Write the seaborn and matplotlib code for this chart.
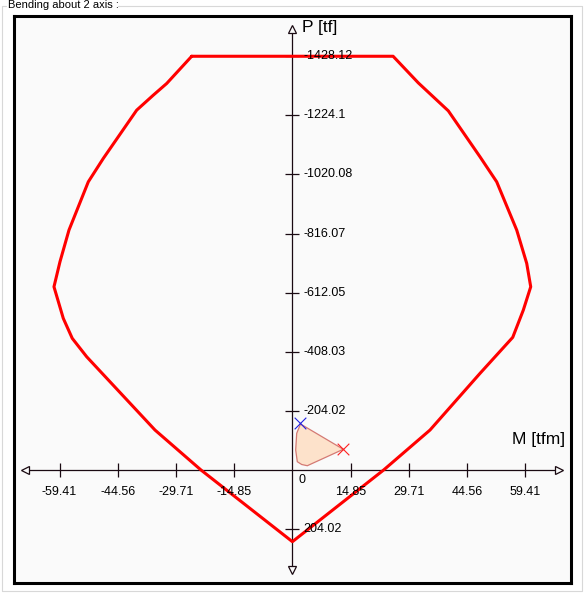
import matplotlib
matplotlib.use("Agg")
import matplotlib.pyplot as plt
from matplotlib.lines import Line2D
import seaborn as sns
import numpy as np
import pandas as pd

# ---- data ----
curve_M = [-25.70, 25.70, 32.13, 35.96, 39.79, 47.88, 52.14, 57.25, 59.80, 60.82, 58.93,
           56.23, 47.88, 35.12, 23.28, 0.0, -23.33, -35.07, -52.50, -56.18, -58.47,
           -60.85, -59.32, -57.02, -52.09, -48.26, -39.74, -35.50, -32.08, -25.70]
curve_P = [-1428.12, -1428.12, -1336.3, -1288.0, -1239.7, -1081.0, -994.7, -828.1, -713.2,
           -632.4, -552.0, -457.9, -333.6, -138.0, 0.0, 247.4, 0.0, -138.0, -390.9, -454.4,
           -523.4, -632.4, -718.7, -828.1, -994.7, -1075.5, -1242.1, -1293.9, -1334.2, -1428.12]

load_M = [2.07, 1.10, 0.84, 1.25, 2.37, 3.80, 12.98]
load_P = [-158.8, -126.7, -69.0, -28.7, -19.0, -14.8, -71.5]

blue_pt = (1.94, -161.2)
red_pt = (12.98, -71.5)

x_ticks = [-59.41, -44.56, -29.71, -14.85, 14.85, 29.71, 44.56, 59.41]
x_tick_labels = ["-59.41", "-44.56", "-29.71", "-14.85", "14.85", "29.71", "44.56", "59.41"]
y_ticks = [-1428.12, -1224.10, -1020.08, -816.07, -612.05, -408.03, -204.02, 204.02]
y_tick_labels = ["-1428.12", "-1224.1", "-1020.08", "-816.07", "-612.05", "-408.03", "-204.02", "204.02"]

sns.set_theme(style="white")
plt.rcParams["font.family"] = ["Liberation Sans", "DejaVu Sans"]

fig = plt.figure(figsize=(5.84, 5.93), dpi=100, facecolor="white")
ax = fig.add_axes([14 / 584, (593 - 582.5) / 593, (571 - 14) / 584, (582.5 - 16) / 593])
ax.set_facecolor("#fafafa")
for s in ax.spines.values():
    s.set_visible(True)
    s.set_color("black")
    s.set_linewidth(2.2)
ax.set_xticks([])
ax.set_yticks([])
ax.set_xlim(-71.05, 71.1)
ax.set_ylim(388.3, -1567.1)

axis_col = "#1a0a12"
# coordinate axes through origin
ax.plot([-68.2, 68.1], [0, 0], color=axis_col, lw=0.9, zorder=2)
ax.plot([0, 0], [-1520.9, 344.0], color=axis_col, lw=0.9, zorder=2)
arrow_kw = dict(markersize=6.2, markerfacecolor="#fafafa", markeredgecolor=axis_col,
                markeredgewidth=0.9, linestyle="none", zorder=3)
ax.plot([-68.2], [0], marker="<", **arrow_kw)
ax.plot([68.1], [0], marker=">", **arrow_kw)
ax.plot([0], [-1520.9], marker="^", **arrow_kw)
ax.plot([0], [344.0], marker="v", **arrow_kw)

# ticks
ax.plot(x_ticks, [0] * len(x_ticks), marker="|", markersize=9.5, markeredgewidth=0.9,
        color=axis_col, linestyle="none", zorder=2)
ax.plot([0] * len(y_ticks), y_ticks, marker="_", markersize=10, markeredgewidth=0.9,
        color=axis_col, linestyle="none", zorder=2)
for xv, lab in zip(x_ticks, x_tick_labels):
    ax.annotate(lab, (xv, 0), xytext=(0, -15.6), textcoords="offset points",
                ha="center", va="center", fontsize=9, color="black", zorder=5)
for yv, lab in zip(y_ticks, y_tick_labels):
    ax.annotate(lab, (0, yv), xytext=(8.2, 0), textcoords="offset points",
                ha="left", va="center", fontsize=9, color="black", zorder=5)
ax.annotate("0", (0, 0), xytext=(7.2, -7.3), textcoords="offset points",
            ha="center", va="center", fontsize=9, color="black")

ax.text(2.45, -1528.5, "P [tf]", ha="left", va="center", fontsize=12.5, color="black")
ax.text(69.6, -107, "M [tfm]", ha="right", va="center", fontsize=12.5, color="black")

# load region
ax.fill(load_M, load_P, facecolor="#fde2cb", edgecolor="#d47a74", linewidth=0.9, zorder=3)
ax.scatter([blue_pt[0]], [blue_pt[1]], marker="x", s=70, color="#2020e0", linewidths=0.8, zorder=4)
ax.scatter([red_pt[0]], [red_pt[1]], marker="x", s=70, color="#ff2020", linewidths=0.8, zorder=4)

# interaction curve
df = pd.DataFrame({"M": curve_M, "P": curve_P})
sns.lineplot(data=df, x="M", y="P", sort=False, estimator=None, color="#ff0000",
             linewidth=2.2, ax=ax, zorder=4)
ax.set_xlabel("")
ax.set_ylabel("")

# group box
gcol = "#d8d8d8"
def fl(x0, y0, x1, y1):
    fig.add_artist(Line2D([x0 / 584, x1 / 584], [1 - y0 / 593, 1 - y1 / 593],
                          color=gcol, lw=0.8, transform=fig.transFigure))
fl(1.5, 5.5, 6, 5.5)
fl(118, 5.5, 582, 5.5)
fl(1.5, 5.5, 1.5, 591)
fl(582, 5.5, 582, 591)
fl(1.5, 591, 582, 591)
fig.text(8 / 584, 1 - 5.5 / 593, "Bending about 2 axis :", ha="left", va="center",
         fontsize=8, color="black")

fig.savefig("out.png", dpi=100, facecolor="white")
